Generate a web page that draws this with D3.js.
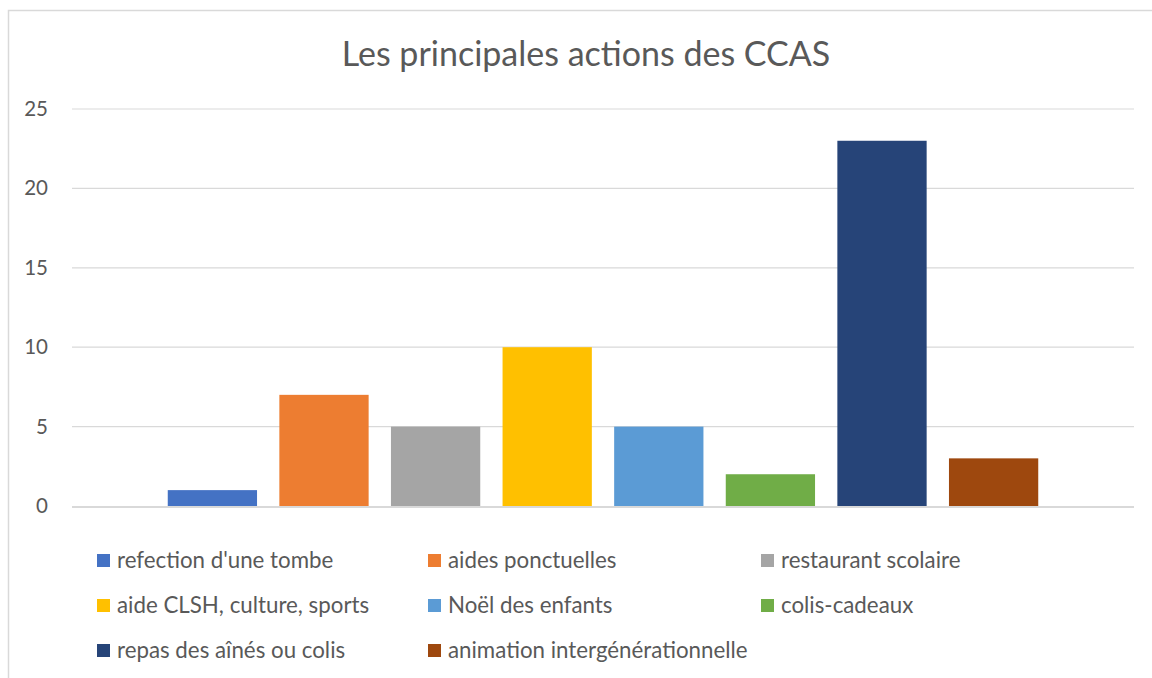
<!DOCTYPE html>
<html>
<head>
<meta charset="utf-8">
<script src="https://cdn.jsdelivr.net/npm/d3@7"></script>
<style>
  body { margin: 0; background: #fff; }
  svg { display: block; font-family: Lato, "Open Sans", sans-serif; }
</style>
</head>
<body>
<svg id="chart" width="1152" height="678"></svg>
<script>
// data
const seriesNames = [
  "refection d'une tombe", "aides ponctuelles", "restaurant scolaire",
  "aide CLSH, culture, sports", "Noël des enfants", "colis-cadeaux",
  "repas des aînés ou colis", "animation intergénérationnelle"
];
const seriesValues = [1, 7, 5, 10, 5, 2, 23, 3];
const seriesColors = ["#4472C4", "#ED7D31", "#A5A5A5", "#FFC000", "#5B9BD5", "#70AD47", "#264478", "#9E480E"];
const yTicks = [0, 5, 10, 15, 20, 25];
const chartTitle = "Les principales actions des CCAS";

const svg = d3.select("#chart");
const textColor = "#595959";
const plot = {left: 72, right: 1134, top: 109, bottom: 506};

// outer frame (only top and left edges show in the crop)
svg.append("path")
  .attr("d", "M8.5,678 V10.5 H1152")
  .attr("fill", "none")
  .attr("stroke", "#D9D9D9")
  .attr("stroke-width", 1.5);

svg.append("text")
  .attr("x", 586).attr("y", 66)
  .attr("text-anchor", "middle")
  .attr("font-size", 34)
  .attr("fill", textColor)
  .text(chartTitle);

const x = d3.scaleBand()
  .domain(seriesNames)
  .range([plot.left, plot.right])
  .paddingInner(0.2)
  .paddingOuter(0.858);

const y = d3.scaleLinear()
  .domain([0, 25])
  .range([plot.bottom, plot.top]);

// gridlines
svg.append("g").selectAll("line")
  .data(yTicks.filter(d => d > 0))
  .join("line")
  .attr("x1", plot.left).attr("x2", plot.right)
  .attr("y1", d => y(d)).attr("y2", d => y(d))
  .attr("stroke", "#D9D9D9")
  .attr("stroke-width", 1.2);

// y labels
const yAxis = svg.append("g")
  .attr("transform", `translate(${plot.left},0)`)
  .call(d3.axisLeft(y).tickValues(yTicks).tickSize(0).tickPadding(24));
yAxis.select(".domain").remove();
yAxis.selectAll("text")
  .attr("font-family", "Lato, sans-serif")
  .attr("font-size", 20.5)
  .attr("fill", textColor);

// bars
svg.append("g").selectAll("rect")
  .data(seriesNames)
  .join("rect")
  .attr("x", d => x(d))
  .attr("width", x.bandwidth())
  .attr("y", (d, i) => y(seriesValues[i]))
  .attr("height", (d, i) => y(0) - y(seriesValues[i]))
  .attr("fill", (d, i) => seriesColors[i]);

// zero line
svg.append("line")
  .attr("x1", plot.left).attr("x2", plot.right)
  .attr("y1", y(0) + 1).attr("y2", y(0) + 1)
  .attr("stroke", "#D9D9D9")
  .attr("stroke-width", 2.2);

// legend: 3 columns
const legendCols = [97, 428, 761];
const legendRows = [554, 599, 644];
const legend = svg.append("g").selectAll("g")
  .data(seriesNames)
  .join("g")
  .attr("transform", (d, i) => `translate(${legendCols[i % 3]},${legendRows[Math.floor(i / 3)]})`);
legend.append("rect")
  .attr("width", 13).attr("height", 13)
  .attr("fill", (d, i) => seriesColors[i]);
legend.append("text")
  .attr("x", 20).attr("y", 14)
  .attr("font-size", 22.3)
  .attr("fill", textColor)
  .text(d => d);
</script>
</body>
</html>
